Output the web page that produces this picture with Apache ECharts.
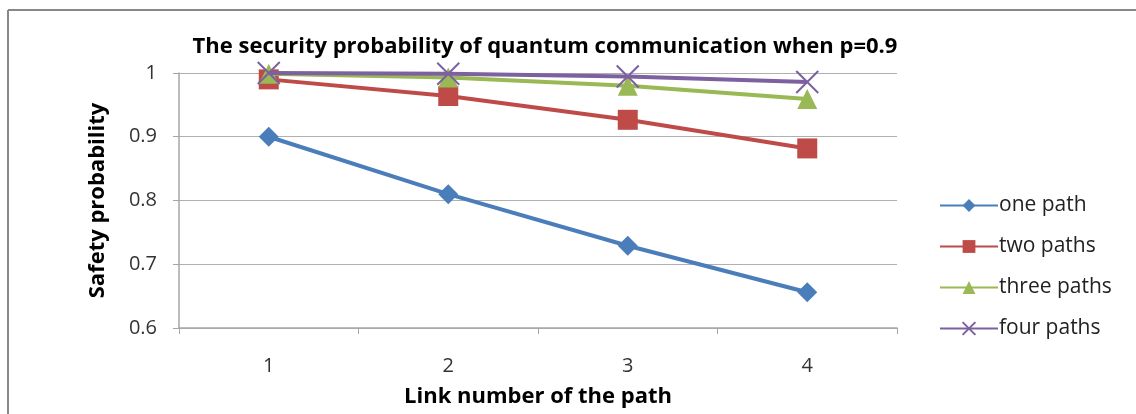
<!DOCTYPE html>
<html><head><meta charset="utf-8">
<script src="https://cdn.jsdelivr.net/npm/echarts@6/dist/echarts.min.js"></script>
<style>html,body{margin:0;padding:0;background:#fff}#c{width:1136px;height:414px}</style>
</head><body><div id="c"></div>
<script>
const categories = ['1', '2', '3', '4'];
const onePath = [0.9, 0.81, 0.729, 0.6561];
const twoPaths = [0.99, 0.9639, 0.9266, 0.8817];
const threePaths = [0.999, 0.9931, 0.9801, 0.9593];
const fourPaths = [0.9999, 0.9987, 0.9946, 0.986];
const seriesNames = ['one path', 'two paths', 'three paths', 'four paths'];
const yTicks = { min: 0.6, max: 1, interval: 0.1 };

const font = '"Open Sans", "DejaVu Sans", sans-serif';
const colors = ['#4a7ebb', '#be4b48', '#98b954', '#7d60a0'];
const symbols = ['diamond', 'rect', 'triangle', 'path://M0,0 L10,10 M10,0 L0,10'];
const sizes = [20, 20, 20, 22];
const dataSets = [onePath, twoPaths, threePaths, fourPaths];

const chart = echarts.init(document.getElementById('c'));
chart.setOption({
  animation: false,
  backgroundColor: '#fff',
  title: {
    text: 'The security probability of quantum communication when p=0.9',
    left: 540, top: 31, textAlign: 'center',
    textStyle: { fontFamily: font, fontSize: 22, fontWeight: 'bold', color: '#000' }
  },
  grid: { left: 179, right: 239, top: 73, bottom: 86, outerBoundsMode: 'none', containLabel: false },
  legend: {
    orient: 'vertical', left: 934, top: 186, itemGap: 12,
    itemWidth: 58, itemHeight: 16,
    textStyle: { fontFamily: font, fontSize: 21, color: '#222', padding: [0, 0, 0, -4],
      lineHeight: 29 },
    data: seriesNames
  },
  xAxis: {
    type: 'category', data: categories, boundaryGap: true,
    name: 'Link number of the path', nameLocation: 'middle', nameGap: 58,
    nameTextStyle: { fontFamily: font, fontSize: 22, fontWeight: 'bold', color: '#000' },
    axisLine: { lineStyle: { color: '#a6a6a6', width: 1.5 } },
    axisTick: { show: true, length: 6, lineStyle: { color: '#a6a6a6' } },
    axisLabel: { fontFamily: font, fontSize: 20, color: '#333', margin: 28 }
  },
  yAxis: {
    type: 'value', min: yTicks.min, max: yTicks.max, interval: yTicks.interval,
    name: 'Safety probability', nameLocation: 'middle', nameGap: 70, nameRotate: 90,
    nameTextStyle: { fontFamily: font, fontSize: 22, fontWeight: 'bold', color: '#000' },
    axisLine: { show: true, lineStyle: { color: '#a6a6a6', width: 1.5 } },
    axisTick: { show: true, length: 6, lineStyle: { color: '#a6a6a6' } },
    axisLabel: { fontFamily: font, fontSize: 20, color: '#333', margin: 22,
      formatter: v => String(Math.round(v * 10) / 10) },
    splitLine: { lineStyle: { color: '#b0b0b0', width: 1.2 } }
  },
  graphic: [
    { type: 'line', shape: { x1: 8, y1: 10, x2: 1136, y2: 10 }, style: { stroke: '#888', lineWidth: 2 } },
    { type: 'line', shape: { x1: 8, y1: 10, x2: 8, y2: 414 }, style: { stroke: '#888', lineWidth: 2 } }
  ],
  series: seriesNames.map((n, i) => ({
    name: n, type: 'line', data: dataSets[i],
    symbol: symbols[i], symbolSize: sizes[i], showSymbol: true,
    lineStyle: { color: colors[i], width: 4 },
    itemStyle: i === 3 ? { color: 'none', borderColor: colors[i], borderWidth: 2 } : { color: colors[i] },
    z: 2 + i
  }))
});
</script></body></html>
